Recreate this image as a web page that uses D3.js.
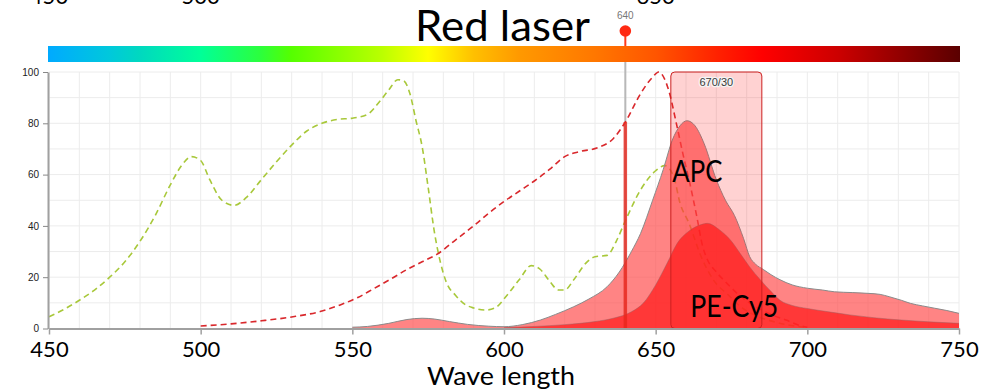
<!DOCTYPE html>
<html><head><meta charset="utf-8">
<script src="https://cdn.jsdelivr.net/npm/d3@7/dist/d3.min.js"></script>
<style>
html,body{margin:0;padding:0;background:#fff;}
svg{display:block;}
</style></head>
<body>
<svg id="chart" width="986" height="391"></svg>
<script>
// ---------- DATA ----------
const xTicks = [450, 500, 550, 600, 650, 700, 750];
const yTicks = [0, 20, 40, 60, 80, 100];
const topCutLabels = [450, 500, 650];
const title = "Red laser";
const laserNm = 640;
const laserEff = 80.5;
const filterCenter = 670;
const filterWidth = 30;
const filterLabel = "670/30";

// PE-Cy5 excitation (green dashed)
const peCy5ExNm  = [450,455,460,465,470,475,480,485,490,494,497,500,503,507,511,515,520,525,530,535,540,545,550,555,559,562,565,567,569,571,573,575,577,579,581,584,587,590,594,597,601,605,609,612,615,618,620,623,627,630,634,637,640,645,650,653,656,658,661,665,669,674,678,683,687,693,699];
const peCy5ExVal = [4.6,7.5,11,15,20,26,34,44,56,64,67,65.5,58,50,48,51,58,65,71.5,77,80,81.5,82,83.5,88.5,93,97,96.5,91.5,81,71,55,38,26,18,13,9.5,8,7.2,8,13,19,24.5,23,18.5,15,15,19,25.5,28,28.5,34,42,54,61.5,63.5,59,49,41,28,19,13,8.5,5,3.3,1.5,0.5];

// APC excitation (red dashed)
const apcExNm  = [500,510,520,530,540,546,552,557,563,568,573,578,584,590,595,600,605,610,615,620,625,631,636,640,645,649,651,654,657,659,661,663.5,665.5,667,670,673.5,678,683,688,693,698,700];
const apcExVal = [1,1.8,3,4.5,6.8,9.2,12.2,15.5,19.5,23,26,29,34.5,40,45,49.5,53.5,57.5,62,67,69,70.5,74,80.5,91.5,98,100,94,79,68,58,44,32,27,22,17.6,12.5,8.5,5.5,3.3,1,0.5];

// APC emission (light red area)
const apcEmNm  = [550,555,562,568,573,577,582,588,595,600,606,612,617,623,628,634,638,642,645,649,652.5,655.5,658,660.3,663,666,670,673,676,679,681,683,685.5,688,691,695,700,705,709,715,720,724,727,731,734,738,742,746,750];
const apcEmVal = [0.5,0.8,2,3.5,4,3.7,2.7,1.6,0.9,0.7,1.5,3.3,5.5,8.5,11.5,16.3,22,30,37,50,62,73.5,79,81,79,72,58,50,44,35,28,25,23,21,19,17,15.7,15,14.3,14,13.7,13.3,12.4,11,9.8,8.8,7.9,7,5.9];

// PE-Cy5 emission (bright red area)
const peCy5EmNm  = [600,610,620,630,636,642,646,650,654,657,661,665,667,671,675,678,681,684.5,688,691,695,700,707,714,722,731,740,750];
const peCy5EmVal = [0.3,0.8,1.5,2.7,4,6.5,10,17,26,33,38,40.5,41,38.5,34,29,24,19,14.5,11,9,7.8,6.5,5.3,4.2,3.3,2.6,2];

// colour bar stops
const specNm  = [450,470,480,500,520,530,560,575,590,605,630,650,670,685,710,750];
const specCol = ["#00aaff","#00c8dc","#00d8c0","#00ff99","#2cff3c","#55ff00","#bbff00","#ffff00","#ffc000","#ff9900","#ff7700","#ff5500","#ff2200","#ff0000","#cc0000","#5a0000"];

// labels
const labels = [
  {text:"APC", nm:655.5, v:57.2, w:50},
  {text:"PE-Cy5", nm:661.4, v:4.6, w:88}
];

// ---------- CHART ----------
const svg = d3.select("#chart");
const x = d3.scaleLinear().domain([450,750]).range([49,959]);
const y = d3.scaleLinear().domain([0,100]).range([328.5,72]);
const zip = (a,b)=>a.map((d,i)=>({x:d,y:b[i]}));

// top cut-off labels
svg.append("g").selectAll("text").data(topCutLabels).join("text")
  .attr("x",d=>x(d)).attr("y",3.5).attr("text-anchor","middle")
  .attr("font-family","Lato, 'Open Sans', sans-serif").attr("font-size",22)
  .attr("fill","#000").text(d=>d);

// gradient bar
const defs = svg.append("defs");
const grad = defs.append("linearGradient").attr("id","spec").attr("x1","0%").attr("x2","100%");
grad.selectAll("stop").data(specNm).join("stop")
  .attr("offset",(d)=>((d-450)/300*100)+"%").attr("stop-color",(d,i)=>specCol[i]);
svg.append("rect").attr("x",x(450)-1).attr("y",46).attr("width",x(750)-x(450)+2).attr("height",16)
  .attr("fill","url(#spec)");

// grid
const grid = svg.append("g");
grid.selectAll("line.v").data(d3.range(450,751,10)).join("line")
  .attr("x1",d=>x(d)).attr("x2",d=>x(d)).attr("y1",y(100)).attr("y2",y(0))
  .attr("stroke","#ececec").attr("stroke-width",1);
grid.selectAll("line.h").data(d3.range(0,101,10)).join("line")
  .attr("x1",x(450)).attr("x2",x(750)).attr("y1",d=>y(d)).attr("y2",d=>y(d))
  .attr("stroke","#ececec").attr("stroke-width",1);

// laser gray guide
svg.append("line").attr("x1",x(laserNm)).attr("x2",x(laserNm)).attr("y1",62).attr("y2",y(0))
  .attr("stroke","#b8b8b8").attr("stroke-width",2);

// dashed excitation lines
const line = d3.line().x(d=>x(d.x)).y(d=>y(d.y)).curve(d3.curveMonotoneX);
svg.append("path").datum(zip(peCy5ExNm,peCy5ExVal)).attr("d",line)
  .attr("fill","none").attr("stroke","#a8c83a").attr("stroke-width",1.6).attr("stroke-dasharray","6,4");
svg.append("path").datum(zip(apcExNm,apcExVal)).attr("d",line)
  .attr("fill","none").attr("stroke","#d9282c").attr("stroke-width",1.6).attr("stroke-dasharray","6,4");

// emission areas
const area = d3.area().x(d=>x(d.x)).y0(y(0)).y1(d=>y(d.y)).curve(d3.curveMonotoneX);
svg.append("path").datum(zip(apcEmNm,apcEmVal)).attr("d",area)
  .attr("fill","#ff4a4a").attr("fill-opacity",0.68);
svg.append("path").datum(zip(apcEmNm,apcEmVal)).attr("d",line)
  .attr("fill","none").attr("stroke","#8a8a8a").attr("stroke-width",1);
svg.append("path").datum(zip(peCy5EmNm,peCy5EmVal)).attr("d",area)
  .attr("fill","#ff1a1a").attr("fill-opacity",0.72);
svg.append("path").datum(zip(peCy5EmNm,peCy5EmVal)).attr("d",line)
  .attr("fill","none").attr("stroke","#9a6060").attr("stroke-width",0.8).attr("stroke-opacity",0.6);

// laser red line
svg.append("line").attr("x1",x(laserNm)).attr("x2",x(laserNm)).attr("y1",y(laserEff)).attr("y2",y(0))
  .attr("stroke","#e8281e").attr("stroke-opacity",0.8).attr("stroke-width",3.5);

// filter box
const fx0 = x(filterCenter-filterWidth/2), fx1 = x(filterCenter+filterWidth/2);
svg.append("rect").attr("x",fx0).attr("y",y(100)).attr("width",fx1-fx0).attr("height",y(0)-y(100))
  .attr("rx",4).attr("fill","#ff1e1e").attr("fill-opacity",0.2)
  .attr("stroke","#cc2020").attr("stroke-width",1);
svg.append("text").attr("x",(fx0+fx1)/2).attr("y",85.5).attr("text-anchor","middle")
  .attr("font-family","'Liberation Sans', Arial, sans-serif").attr("font-size",11)
  .attr("fill","#3a3a3a").attr("stroke","#f4f4f4").attr("stroke-width",2.6).attr("paint-order","stroke")
  .text(filterLabel);

// axes
const xAxis = svg.append("g").attr("transform",`translate(0,${y(0)})`)
  .call(d3.axisBottom(x).tickValues(xTicks).tickSize(6).tickPadding(8).tickSizeOuter(0));
xAxis.select(".domain").attr("stroke","#a0a0a0").attr("stroke-width",2);
xAxis.selectAll(".tick line").attr("stroke","#a0a0a0").attr("stroke-width",1.5);
xAxis.selectAll(".tick text").attr("font-family","Lato, 'Open Sans', sans-serif").attr("font-size",22)
  .attr("fill","#000").attr("dy",null).attr("y",28);

const yAxis = svg.append("g").attr("transform",`translate(${x(450)-1},0)`)
  .call(d3.axisLeft(y).tickValues(yTicks).tickSize(5).tickPadding(4).tickSizeOuter(0));
yAxis.select(".domain").attr("stroke","#a0a0a0").attr("stroke-width",2);
yAxis.selectAll(".tick line").attr("stroke","#888").attr("stroke-width",1);
yAxis.selectAll(".tick text").attr("font-family","'Liberation Sans', Arial, sans-serif").attr("font-size",10)
  .attr("fill","#222");

// x axis title
svg.append("text").attr("x",501).attr("y",385).attr("text-anchor","middle")
  .attr("font-family","Lato, 'Open Sans', sans-serif").attr("font-size",25)
  .attr("textLength",148).attr("lengthAdjust","spacingAndGlyphs")
  .attr("fill","#000").text("Wave length");

// title
svg.append("text").attr("x",415).attr("y",41).attr("font-family","Lato, 'Open Sans', sans-serif")
  .attr("font-size",43).attr("textLength",175).attr("lengthAdjust","spacingAndGlyphs")
  .attr("fill","#000").text(title);

// laser marker
svg.append("line").attr("x1",x(laserNm)).attr("x2",x(laserNm)).attr("y1",31).attr("y2",46)
  .attr("stroke","#ff3a1a").attr("stroke-width",2);
svg.append("circle").attr("cx",x(laserNm)).attr("cy",31).attr("r",5.8).attr("fill","#ff2a12");
svg.append("text").attr("x",x(laserNm)).attr("y",19).attr("text-anchor","middle")
  .attr("font-family","'Liberation Sans', Arial, sans-serif").attr("font-size",10)
  .attr("fill","#777").text(laserNm);

// series labels
svg.append("g").selectAll("text").data(labels).join("text")
  .attr("x",d=>x(d.nm)).attr("y",d=>y(d.v))
  .attr("font-family","Lato, 'Open Sans', sans-serif").attr("font-size",30)
  .attr("textLength",d=>d.w).attr("lengthAdjust","spacingAndGlyphs")
  .attr("fill","#000").text(d=>d.text);
</script>
</body></html>
